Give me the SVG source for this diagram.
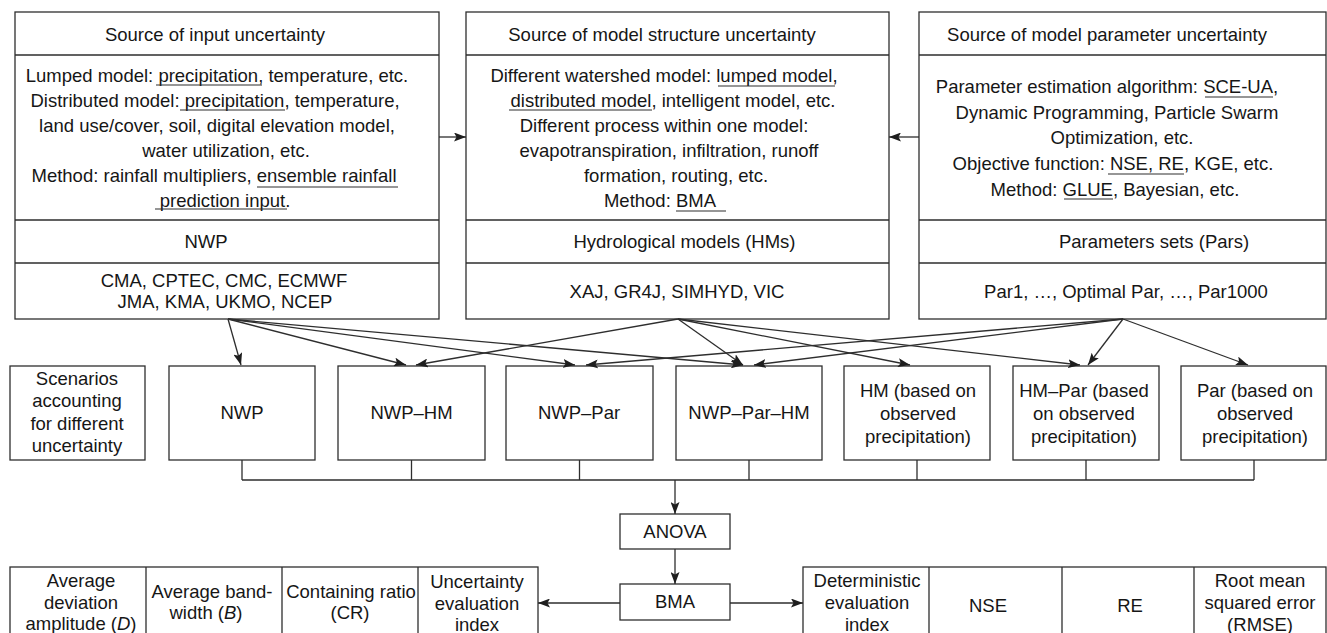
<svg xmlns="http://www.w3.org/2000/svg" width="1327" height="633" viewBox="0 0 1327 633">
<style>
.b{fill:#fff;stroke:#2e2e2e;stroke-width:1.3}
.l{fill:none;stroke:#2e2e2e;stroke-width:1.3}
.u{fill:none;stroke:#2e2e2e;stroke-width:1.2}
.t{font-family:"Liberation Sans",Arial,sans-serif;font-size:18.5px;fill:#161616;text-anchor:middle}
.i{font-style:italic}
</style>
<defs>
<marker id="ah" viewBox="0 0 12 9" refX="12" refY="4.5" markerWidth="12" markerHeight="9" orient="auto" markerUnits="userSpaceOnUse">
<path d="M0,0 L12,4.5 L0,9 L2.5,4.5 z" fill="#1e1e1e"/>
</marker>
</defs>
<rect width="1327" height="633" fill="#fff"/>

<g id="input-uncertainty">
<rect class="b" x="15" y="12" width="424" height="307"/>
<path class="l" d="M15,55H439M15,220H439M15,263H439"/>
<text class="t" x="215" y="40.5">Source of input uncertainty</text>
<text class="t" x="217" y="82">Lumped model: precipitation, temperature, etc.</text>
<text class="t" x="215" y="107">Distributed model: precipitation, temperature,</text>
<text class="t" x="217" y="132">land use/cover, soil, digital elevation model,</text>
<text class="t" x="226" y="157">water utilization, etc.</text>
<text class="t" x="214" y="182">Method: rainfall multipliers, ensemble rainfall</text>
<text class="t" x="225" y="207">prediction input.</text>
<path class="u" d="M156,85H262M180,110H285M257,187H398M155,209H287"/>
<text class="t" x="206" y="248">NWP</text>
<text class="t" x="224" y="287">CMA, CPTEC, CMC, ECMWF</text>
<text class="t" x="225" y="308">JMA, KMA, UKMO, NCEP</text>
</g>

<g id="structure-uncertainty">
<rect class="b" x="466" y="12" width="423" height="307"/>
<path class="l" d="M466,55H889M466,220H889M466,263H889"/>
<text class="t" x="662" y="40.5">Source of model structure uncertainty</text>
<text class="t" x="664" y="82">Different watershed model: lumped model,</text>
<text class="t" x="673" y="107">distributed model, intelligent model, etc.</text>
<text class="t" x="664" y="132">Different process within one model:</text>
<text class="t" x="669" y="157">evapotranspiration, infiltration, runoff</text>
<text class="t" x="676" y="182">formation, routing, etc.</text>
<text class="t" x="660" y="207">Method: BMA</text>
<path class="u" d="M718,86H835M509,110H652M676,211H726"/>
<text class="t" x="684.5" y="248">Hydrological models (HMs)</text>
<text class="t" x="677" y="298">XAJ, GR4J, SIMHYD, VIC</text>
</g>

<g id="parameter-uncertainty">
<rect class="b" x="919" y="12" width="407" height="307"/>
<path class="l" d="M919,55H1326M919,220H1326M919,263H1326"/>
<text class="t" x="1107" y="40.5">Source of model parameter uncertainty</text>
<text class="t" x="1107" y="92.5">Parameter estimation algorithm: SCE-UA,</text>
<text class="t" x="1117" y="118.5">Dynamic Programming, Particle Swarm</text>
<text class="t" x="1122" y="144">Optimization, etc.</text>
<text class="t" x="1113" y="170">Objective function: NSE, RE, KGE, etc.</text>
<text class="t" x="1115" y="196">Method: GLUE, Bayesian, etc.</text>
<path class="u" d="M1205,97H1273M1108,174H1184M1064,199H1113"/>
<text class="t" x="1154" y="248">Parameters sets (Pars)</text>
<text class="t" x="1126" y="298">Par1, …, Optimal Par, …, Par1000</text>
</g>

<g id="scenarios-label">
<rect class="b" x="10" y="366" width="135" height="94"/>
<text class="t" x="77" y="385">Scenarios</text>
<text class="t" x="77" y="407">accounting</text>
<text class="t" x="77" y="430">for different</text>
<text class="t" x="77" y="452">uncertainty</text>
</g>
<g id="s-nwp">
<rect class="b" x="169" y="366" width="146" height="94"/>
<text class="t" x="242" y="419">NWP</text>
</g>
<g id="s-nwp-hm">
<rect class="b" x="338" y="366" width="147" height="94"/>
<text class="t" x="411.5" y="419">NWP–HM</text>
</g>
<g id="s-nwp-par">
<rect class="b" x="506" y="366" width="147" height="94"/>
<text class="t" x="579" y="419">NWP–Par</text>
</g>
<g id="s-nwp-par-hm">
<rect class="b" x="676" y="366" width="146" height="94"/>
<text class="t" x="749" y="419">NWP–Par–HM</text>
</g>
<g id="s-hm">
<rect class="b" x="844" y="366" width="146" height="94"/>
<text class="t" x="918" y="397">HM (based on</text>
<text class="t" x="918" y="420">observed</text>
<text class="t" x="918" y="443">precipitation)</text>
</g>
<g id="s-hm-par">
<rect class="b" x="1013" y="366" width="146" height="94"/>
<text class="t" x="1084" y="397">HM–Par (based</text>
<text class="t" x="1084" y="420">on observed</text>
<text class="t" x="1084" y="443">precipitation)</text>
</g>
<g id="s-par">
<rect class="b" x="1181" y="366" width="145" height="94"/>
<text class="t" x="1255" y="397">Par (based on</text>
<text class="t" x="1255" y="420">observed</text>
<text class="t" x="1255" y="443">precipitation)</text>
</g>

<g id="anova">
<rect class="b" x="620" y="514" width="110" height="35"/>
<text class="t" x="675" y="537.5">ANOVA</text>
</g>
<g id="bma">
<rect class="b" x="620" y="584" width="110" height="36"/>
<text class="t" x="675" y="608">BMA</text>
</g>

<g id="uncertainty-index">
<rect class="b" x="10" y="567" width="528" height="80"/>
<path class="l" d="M146,567V647M282,567V647M418,567V647"/>
<text class="t" x="81" y="587">Average</text>
<text class="t" x="81" y="608.5">deviation</text>
<text class="t" x="81" y="630">amplitude (<tspan class="i">D</tspan>)</text>
<text class="t" x="212" y="598">Average band-</text>
<text class="t" x="206" y="619">width (<tspan class="i">B</tspan>)</text>
<text class="t" x="351" y="598">Containing ratio</text>
<text class="t" x="350" y="619">(CR)</text>
<text class="t" x="477" y="588">Uncertainty</text>
<text class="t" x="477" y="609.5">evaluation</text>
<text class="t" x="477" y="631">index</text>
</g>

<g id="deterministic-index">
<rect class="b" x="803" y="567" width="523" height="80"/>
<path class="l" d="M929,567V647M1062,567V647M1194,567V647"/>
<text class="t" x="867" y="587">Deterministic</text>
<text class="t" x="867" y="609">evaluation</text>
<text class="t" x="867" y="631">index</text>
<text class="t" x="988" y="612">NSE</text>
<text class="t" x="1130" y="612">RE</text>
<text class="t" x="1260" y="587">Root mean</text>
<text class="t" x="1260" y="609">squared error</text>
<text class="t" x="1260" y="631">(RMSE)</text>
</g>

<g id="connectors" class="l" marker-end="url(#ah)">
<path d="M439,137H466"/>
<path d="M919,137H889"/>
<path d="M228,319L241,365"/>
<path d="M228,319L406,365"/>
<path d="M228,319L575,365"/>
<path d="M228,319L743,365"/>
<path d="M678,319L416,365"/>
<path d="M678,319L743,365"/>
<path d="M678,319L910,365"/>
<path d="M678,319L1080,365"/>
<path d="M1123,319L586,365"/>
<path d="M1123,319L754,365"/>
<path d="M1123,319L1088,365"/>
<path d="M1123,319L1248,365"/>
<path d="M242,460V480M411.5,460V480M579.5,460V480M749,460V480M917,460V480M1086,460V480M1254,460V480M242,480H1254" marker-end="none"/>
<path d="M675,480V514"/>
<path d="M675,549V584"/>
<path d="M620,603H538"/>
<path d="M730,603H803"/>
</g>
</svg>
